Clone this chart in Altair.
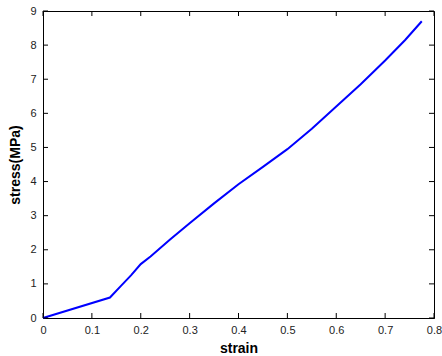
import altair as alt
import pandas as pd

strain = [0.0, 0.137, 0.16, 0.18, 0.2, 0.22, 0.26, 0.3, 0.35, 0.4, 0.45, 0.5, 0.55, 0.6, 0.65, 0.7, 0.741, 0.775]
stress = [0.0, 0.6, 0.95, 1.25, 1.58, 1.8, 2.3, 2.78, 3.36, 3.92, 4.43, 4.95, 5.55, 6.2, 6.85, 7.55, 8.15, 8.7]
x_ticks = [0, 0.1, 0.2, 0.3, 0.4, 0.5, 0.6, 0.7, 0.8]
y_ticks = [0, 1, 2, 3, 4, 5, 6, 7, 8, 9]

W, H = 391, 307
TL = 5

df = pd.DataFrame({"strain": strain, "stress": stress})
xt = pd.DataFrame({"strain": x_ticks})
yt = pd.DataFrame({"stress": y_ticks})

xscale = alt.Scale(domain=[0, 0.8], nice=False, zero=False)
yscale = alt.Scale(domain=[0, 9], nice=False, zero=False)

common = dict(tickSize=0, labelFontSize=11, titleFontSize=14, titleFontWeight="bold",
              labelFont="Liberation Sans", titleFont="Liberation Sans",
              labelColor="#222222", titleColor="black", domainColor="black",
              grid=False, labelFlush=False, labelOverlap=False)
xaxis = alt.Axis(title="strain", values=x_ticks, format="~g", labelPadding=6,
                 titlePadding=6, **common)
yaxis = alt.Axis(title="stress(MPa)", values=y_ticks, format="d", labelPadding=7,
                 titlePadding=7, **common)

line = alt.Chart(df).mark_line(color="#0000FF", strokeWidth=2).encode(
    x=alt.X("strain:Q", scale=xscale, axis=xaxis),
    y=alt.Y("stress:Q", scale=yscale, axis=yaxis),
)

tick_style = dict(color="black", strokeWidth=1)
xb = alt.Chart(xt).mark_rule(**tick_style).encode(
    x=alt.X("strain:Q", scale=xscale, axis=xaxis), y=alt.value(H), y2=alt.value(H - TL))
xtop = alt.Chart(xt).mark_rule(**tick_style).encode(
    x=alt.X("strain:Q", scale=xscale, axis=xaxis), y=alt.value(0), y2=alt.value(TL))
yl = alt.Chart(yt).mark_rule(**tick_style).encode(
    y=alt.Y("stress:Q", scale=yscale, axis=yaxis), x=alt.value(0), x2=alt.value(TL))
yr = alt.Chart(yt).mark_rule(**tick_style).encode(
    y=alt.Y("stress:Q", scale=yscale, axis=yaxis), x=alt.value(W), x2=alt.value(W - TL))

chart = alt.layer(line, xb, xtop, yl, yr).properties(
    width=W, height=H,
    autosize=alt.AutoSizeParams(type="none"),
    padding={"left": 43, "top": 11, "right": 8, "bottom": 38},
    background="white",
).configure_view(stroke="black", strokeWidth=1)

chart.save("out.html", embed_options={"renderer": "svg", "actions": False})
